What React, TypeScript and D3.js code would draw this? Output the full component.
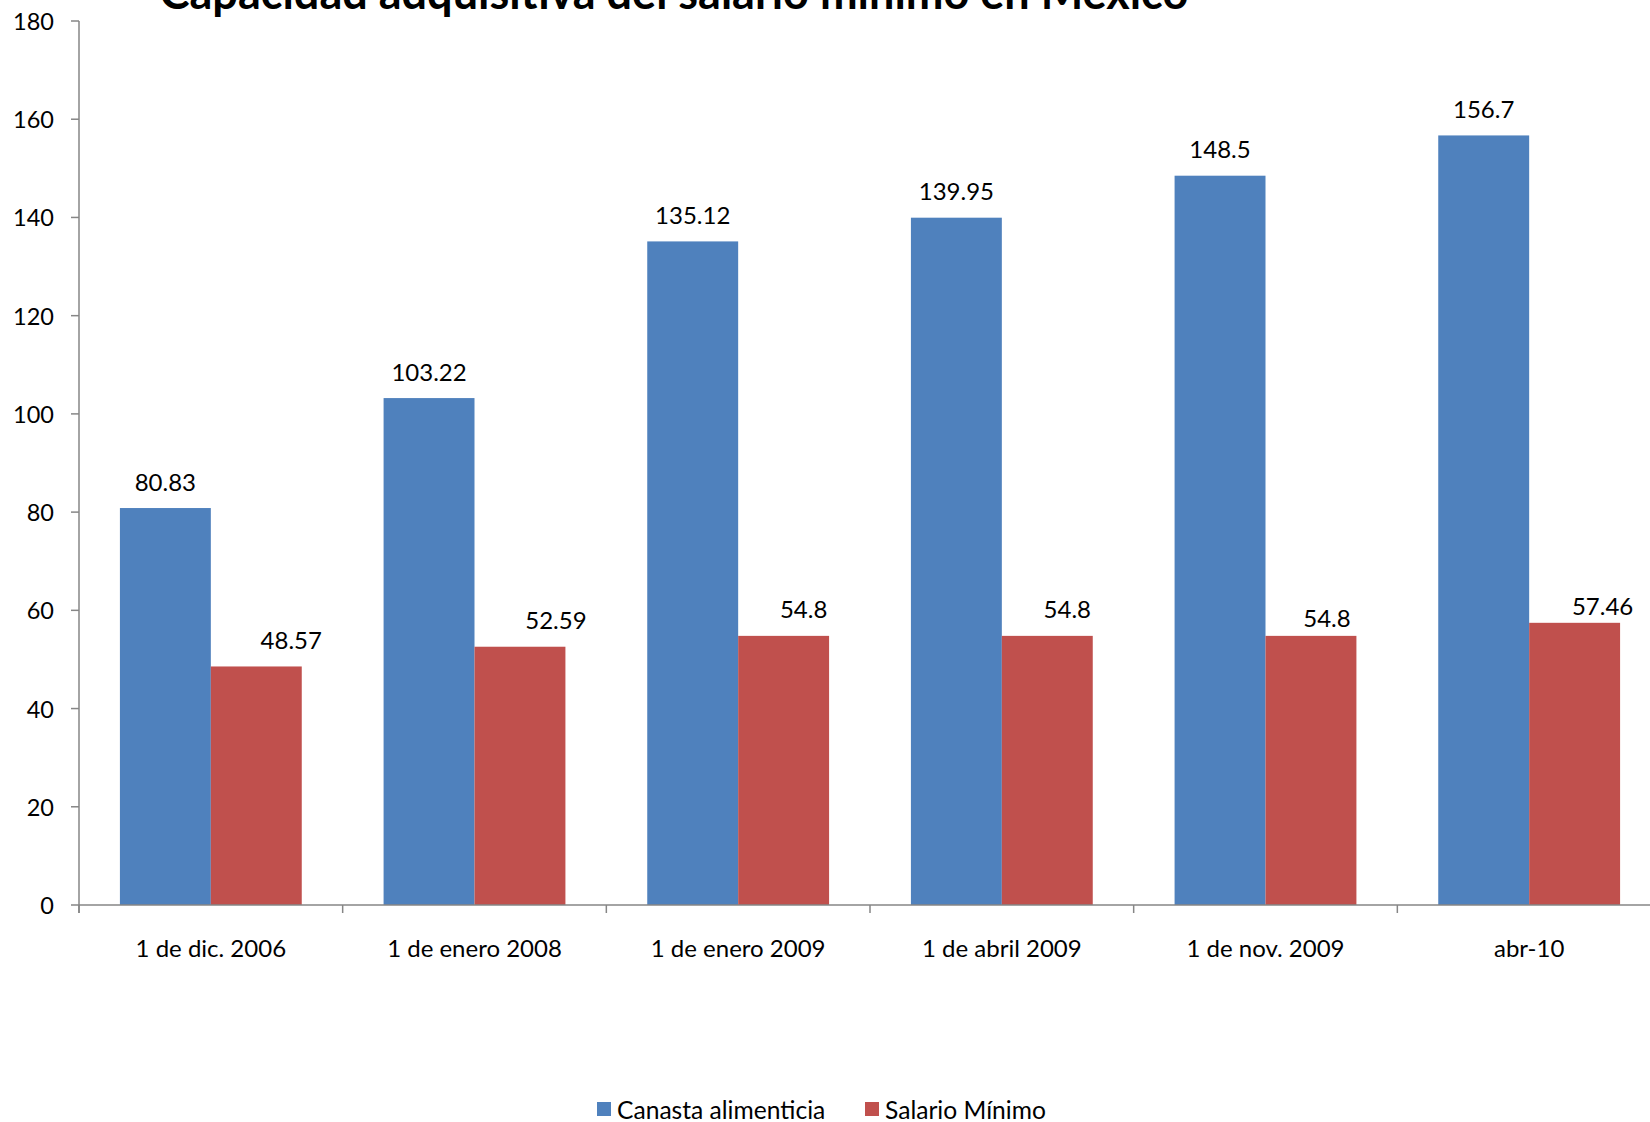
import React from "react";
import * as d3 from "d3";

const categories = [
  "1 de dic. 2006",
  "1 de enero 2008",
  "1 de enero 2009",
  "1 de abril 2009",
  "1 de nov. 2009",
  "abr-10",
];
const canasta = [80.83, 103.22, 135.12, 139.95, 148.5, 156.7];
const salario = [48.57, 52.59, 54.8, 54.8, 54.8, 57.46];
const canastaLabels = ["80.83", "103.22", "135.12", "139.95", "148.5", "156.7"];
const salarioLabels = ["48.57", "52.59", "54.8", "54.8", "54.8", "57.46"];
const seriesNames = ["Canasta alimenticia", "Salario Mínimo"];
const yTicks = [0, 20, 40, 60, 80, 100, 120, 140, 160, 180];
const titleText = "Capacidad adquisitiva del salario mínimo en México";

// manual label nudges (as placed in the original chart)
const salarioLabelDx = [35, 36, 20, 20, 16, 28];
const salarioLabelDy = [0, 0, 0, 0, 9, 10];

const COLORS = ["#4F81BD", "#C0504D"];
const AXIS = "#868686";
const FONT = "Lato, 'Open Sans', sans-serif";

export default function App() {
  const W = 1650;
  const H = 1122;
  const left = 79;
  const right = 1661;
  const top = 21;
  const bottom = 905;

  const x = d3.scaleBand<string>().domain(categories).range([left, right]).padding(0);
  const inner = d3
    .scaleBand<string>()
    .domain(seriesNames)
    .range([0, x.bandwidth()])
    .paddingInner(0)
    .paddingOuter(0.45);
  const y = d3.scaleLinear().domain([0, 180]).range([bottom, top]);

  const series = [canasta, salario];
  const labels = [canastaLabels, salarioLabels];

  const boundaries = d3.range(categories.length + 1).map((i) => left + i * x.step());

  return (
    <svg
      width={W}
      height={H}
      style={{ position: "absolute", left: 0, top: 0, background: "#fff" }}
      fontFamily={FONT}
    >
      <rect x={0} y={0} width={W} height={H} fill="#fff" />
      <text
        x={674}
        y={9}
        textAnchor="middle"
        fontSize={45}
        fontWeight="bold"
        fill="#000"
      >
        {titleText}
      </text>

      {/* bars */}
      {series.map((vals, si) =>
        vals.map((v, ci) => {
          const bx = (x(categories[ci]) as number) + (inner(seriesNames[si]) as number);
          return (
            <rect
              key={`b${si}-${ci}`}
              x={bx}
              y={y(v)}
              width={inner.bandwidth()}
              height={y(0) - y(v)}
              fill={COLORS[si]}
            />
          );
        })
      )}

      {/* data labels */}
      {series.map((vals, si) =>
        vals.map((v, ci) => {
          const cx =
            (x(categories[ci]) as number) +
            (inner(seriesNames[si]) as number) +
            inner.bandwidth() / 2 +
            (si === 1 ? salarioLabelDx[ci] : 0);
          const cy = y(v) - 27 + (si === 1 ? salarioLabelDy[ci] : 0);
          return (
            <text
              key={`l${si}-${ci}`}
              x={cx}
              y={cy}
              textAnchor="middle"
              dominantBaseline="central"
              fontSize={24}
              fill="#000"
            >
              {labels[si][ci]}
            </text>
          );
        })
      )}

      {/* y axis */}
      <line x1={left} x2={left} y1={top} y2={bottom + 8} stroke={AXIS} strokeWidth={1.5} />
      {yTicks.map((t) => (
        <g key={`yt${t}`}>
          <line x1={left - 8} x2={left} y1={y(t)} y2={y(t)} stroke={AXIS} strokeWidth={1.5} />
          <text
            x={54}
            y={y(t)}
            textAnchor="end"
            dominantBaseline="central"
            fontSize={23.5}
            fill="#000"
          >
            {t}
          </text>
        </g>
      ))}

      {/* x axis */}
      <line x1={left} x2={right} y1={bottom} y2={bottom} stroke={AXIS} strokeWidth={1.5} />
      {boundaries.map((bx, i) => (
        <line key={`xt${i}`} x1={bx} x2={bx} y1={bottom} y2={bottom + 8} stroke={AXIS} strokeWidth={1.5} />
      ))}
      {categories.map((c) => (
        <text
          key={`xl${c}`}
          x={(x(c) as number) + x.bandwidth() / 2}
          y={947}
          textAnchor="middle"
          dominantBaseline="central"
          fontSize={24}
          fill="#000"
        >
          {c}
        </text>
      ))}

      {/* legend */}
      <g>
        <rect x={597} y={1102} width={14} height={14} fill={COLORS[0]} />
        <text x={617} y={1109} dominantBaseline="central" fontSize={24.6} fill="#000">
          {seriesNames[0]}
        </text>
        <rect x={865} y={1102} width={14} height={14} fill={COLORS[1]} />
        <text x={885} y={1109} dominantBaseline="central" fontSize={24.6} fill="#000">
          {seriesNames[1]}
        </text>
      </g>
    </svg>
  );
}
